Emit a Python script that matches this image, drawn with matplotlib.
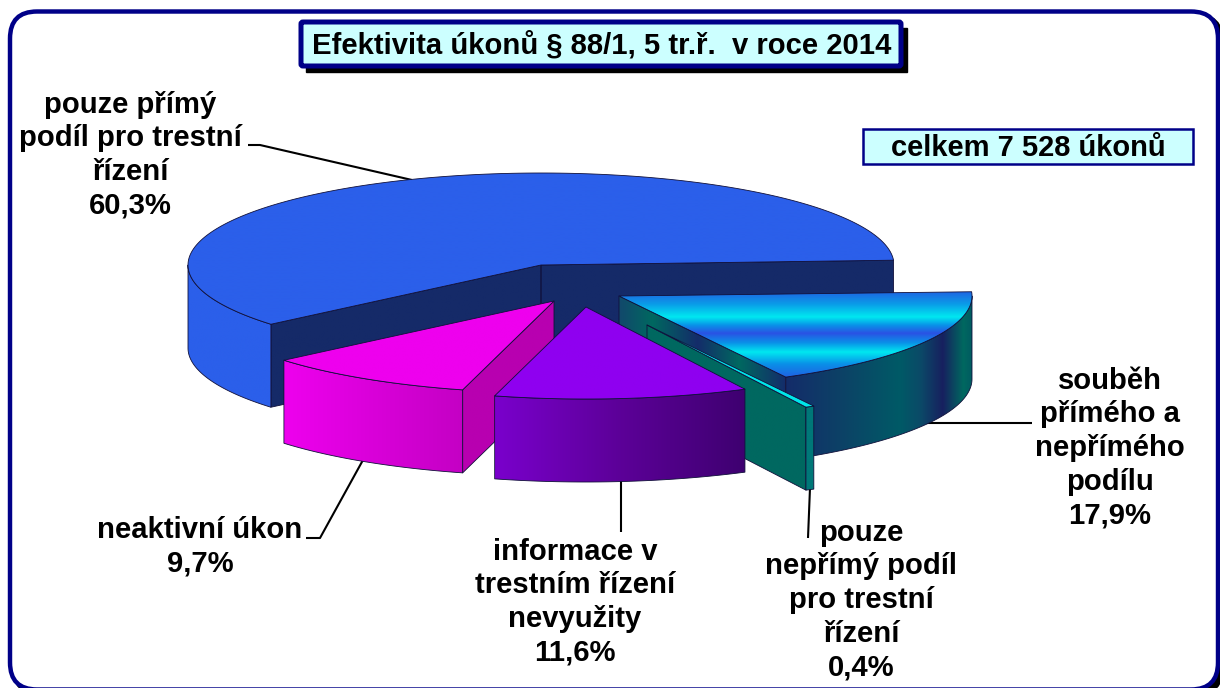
import numpy as np
import matplotlib
matplotlib.use("Agg")
import matplotlib.pyplot as plt
from matplotlib.patches import Polygon, FancyBboxPatch, Rectangle
from matplotlib.colors import LinearSegmentedColormap

# ---- data ----
title_text = "Efektivita úkonů § 88/1, 5 tr.ř.  v roce 2014"
total_text = "celkem 7 528 úkonů"
categories = ["pouze přímý\npodíl pro trestní\nřízení",
              "neaktivní úkon",
              "informace v\ntrestním řízení\nnevyužity",
              "pouze\nnepřímý podíl\npro trestní\nřízení",
              "souběh\npřímého a\nnepřímého\npodílu"]
values = [60.3, 9.7, 11.6, 0.4, 17.9]

# ---- layout (pixel space of the picture) ----
W, H = 1220, 688
start_angle = 3.0
rx, ry, depth = 353, 92, 83
apex = [(541, 265), (554, 301), (586, 307), (647, 325), (619, 296)]
label_xy = [(130, 155), (200, 547), (575, 602), (861, 600), (1110, 448)]
leaders = [[(248, 145), (260, 145), (412, 180)],
           [(363, 460), (320, 538), (306, 538)],
           [(621, 480), (621, 532)],
           [(810, 488), (808, 538)],
           [(926, 423), (1032, 423)]]
draw_order = [0, 4, 3, 1, 2]

top_stops = [["#2b5fea", "#2b5fea"],
             ["#ee00ee", "#ee00ee"],
             ["#8f00f0", "#8f00f0"],
             ["#00e6ea", "#00e6ea"],
             [(0, "#1f62e2"), (0.15, "#0a9ce8"), (0.30, "#00e8f0"), (0.40, "#0a90e8"), (0.49, "#2a52e4"),
              (0.60, "#0a90e8"), (0.71, "#00e8f0"), (0.85, "#0a90e8"), (1, "#1f62e2")]]
wall_stops = [["#2b5fea", "#2b5fea"],
              ["#ee00ee", "#c400c4"],
              ["#7a00cc", "#5c0098", "#3e0070"],
              ["#007878", "#007878"],
              [(0, "#142c6a"), (0.30, "#0c4266"), (0.61, "#005a66"), (0.72, "#0b4a68"), (0.84, "#17205f"),
               (0.95, "#006860"), (1, "#005a60")]]
face_stops = [["#152a68", "#152a68"],
              ["#b800b0", "#b800b0"],
              ["#3e0070", "#3e0070"],
              ["#006860", "#006860"],
              [(0, "#12486c"), (0.2, "#006860"), (0.47, "#142c6a"), (0.72, "#006860"), (1, "#142c6a")]]

plt.rcParams["font.family"] = ["Liberation Sans", "DejaVu Sans"]
fig = plt.figure(figsize=(W / 100, H / 100), dpi=100)
ax = fig.add_axes([0, 0, 1, 1])
ax.axis("off")


def rim(c, a, dy=0):
    a = np.radians(a)
    return np.column_stack([c[0] + rx * np.cos(a), c[1] - ry * np.sin(a) + dy])


def shade(pts, stops, vertical, z):
    x0, y0 = pts.min(axis=0)
    x1, y1 = pts.max(axis=0)
    cmap = LinearSegmentedColormap.from_list("g", stops)
    g = np.linspace(0, 1, 256)
    g = g[:, None] if vertical else g[None, :]
    im = ax.imshow(g, cmap=cmap, extent=(x0, x1, y1, y0), aspect="auto",
                   interpolation="bilinear", zorder=z, vmin=0, vmax=1)
    im.set_clip_path(Polygon(pts, closed=True, transform=ax.transData))
    ax.add_patch(Polygon(pts, closed=True, fill=False, ec="#10103a", lw=0.6,
                         zorder=z + 0.1, joinstyle="round"))


# frame
ax.add_patch(FancyBboxPatch((14, 15), 1208, 679, boxstyle="round,pad=0,rounding_size=27",
                            fc="black", ec="black", lw=3, zorder=0.1))
ax.add_patch(FancyBboxPatch((10, 11.5), 1208, 678, boxstyle="round,pad=0,rounding_size=27",
                            fc="white", ec="#000088", lw=3.2, zorder=0.2))

# slices
angles = start_angle + np.concatenate([[0], np.cumsum(values) * 3.6])
for i in draw_order:
    a0, a1 = angles[i], angles[i + 1]
    c = apex[i]
    base = 10 + draw_order.index(i) * 5
    arc = np.linspace(a0, a1, 200)
    # only the cut faces turned towards the viewer
    visible = [a for a, ok in ((a0, np.cos(np.radians(a0)) > 0), (a1, np.cos(np.radians(a1)) < 0)) if ok]
    for a in visible:
        p = rim(c, np.array([a]))[0]
        quad = np.array([c, p, (p[0], p[1] + depth), (c[0], c[1] + depth)])
        shade(quad, face_stops[i], False, base)
    w0, w1 = max(a0, 180), min(a1, 360)
    if w1 > w0:
        w = np.linspace(w0, w1, 160)
        wall = np.vstack([rim(c, w), rim(c, w[::-1], depth)])
        shade(wall, wall_stops[i], False, base + 1)
    top = np.vstack([[c], rim(c, arc)])
    shade(top, top_stops[i], True, base + 2)

# leaders and labels
for line in leaders:
    xs, ys = zip(*line)
    ax.plot(xs, ys, color="black", lw=1.5, zorder=5, solid_capstyle="butt")
for cat, val, (x, y) in zip(categories, values, label_xy):
    txt = f"{cat}\n{val:.1f}%".replace(".", ",")
    ax.text(x, y, txt, ha="center", va="center", fontsize=21.1, fontweight="bold",
            linespacing=1.25, color="black", zorder=60)

# title box
ax.add_patch(Rectangle((306, 28), 601, 44, fc="black", ec="black", lw=1, zorder=70))
ax.add_patch(FancyBboxPatch((301, 22), 600, 44, boxstyle="round,pad=0,rounding_size=2",
                            fc="#ccffff", ec="#000088", lw=3.6, zorder=71))
ax.text(602, 53, title_text, ha="center", va="baseline", fontsize=21.1, fontweight="bold", zorder=72)

# total box
ax.add_patch(Rectangle((863, 129), 330, 35, fc="#ccffff", ec="#000088", lw=1.8, zorder=70))
ax.text(1028, 156, total_text, ha="center", va="baseline", fontsize=21, fontweight="bold", zorder=72)

ax.set_xlim(0, W)
ax.set_ylim(H, 0)
fig.savefig("out.png", dpi=100)
